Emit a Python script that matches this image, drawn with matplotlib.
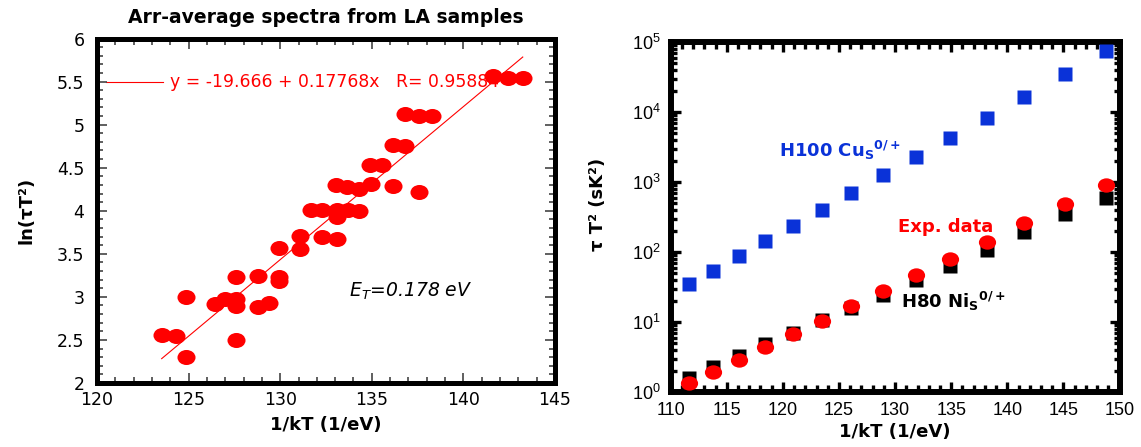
import numpy as np
import matplotlib
matplotlib.use('Agg')
import matplotlib.pyplot as plt
from matplotlib.path import Path
from matplotlib.transforms import Affine2D
from matplotlib.ticker import MultipleLocator, StrMethodFormatter, LogLocator, NullFormatter

plt.rcParams['font.family'] = ['DejaVu Sans']
plt.rcParams['mathtext.fontset'] = 'custom'
plt.rcParams['mathtext.rm'] = 'DejaVu Sans'
plt.rcParams['mathtext.it'] = 'DejaVu Sans:italic'
plt.rcParams['mathtext.bf'] = 'DejaVu Sans:bold'
plt.rcParams['mathtext.default'] = 'regular'

# ---- left panel: Arrhenius points from LA samples ----
la_x = [123.53, 124.31, 124.84, 124.84, 126.44, 126.99, 127.57, 127.57, 127.57, 127.57,
        128.81, 128.77, 129.39, 129.93, 129.93, 129.93, 131.08, 131.08, 131.68, 132.30,
        132.30, 133.08, 133.08, 133.08, 133.05, 133.72, 133.66, 134.32, 134.32, 134.96,
        134.90, 135.54, 136.17, 136.17, 136.81, 136.81, 137.59, 138.27, 137.59, 141.63,
        142.45, 143.24]
la_y = [2.556, 2.545, 2.297, 3.000, 2.916, 2.974, 2.974, 2.893, 3.226, 2.498,
        3.242, 2.878, 2.925, 3.570, 3.226, 3.187, 3.710, 3.552, 4.008, 4.008,
        3.698, 4.008, 3.923, 3.668, 4.299, 4.008, 4.272, 4.248, 4.000, 4.306,
        4.531, 4.531, 4.287, 4.763, 4.751, 5.120, 5.104, 5.100, 4.221, 5.564,
        5.545, 5.538]
fit_b0 = -19.666
fit_b1 = 0.17768
fit_r = 0.95884

# ---- right panel: simulated curves vs experiment ----
inv_kt = [111.6, 113.8, 116.1, 118.4, 120.9, 123.5, 126.1, 128.9, 131.9, 134.9,
          138.2, 141.5, 145.1, 148.8]
cu_h100 = [34.4, 53.7, 87.5, 143, 233, 397, 686, 1245, 2244, 4266,
           8185, 16250, 34400, 73800]
ni_h80 = [1.6, 2.3, 3.3, 4.9, 7.0, 10.6, 16.0, 24.5, 39.5, 64,
          108, 194, 345, 600]
exp_data = [1.33, 1.94, 2.9, 4.4, 6.8, 10.5, 17.1, 27.9, 46.6, 80,
            141, 260, 478, 908]

RED = '#ff0000'
BLUE = '#0a32d8'

ellipse = Path.unit_circle().transformed(Affine2D().scale(1.2, 1.0))

W, H = 1141, 447
fig = plt.figure(figsize=(W / 100, H / 100), dpi=100)

# ================= left =================
ax1 = fig.add_axes([97 / W, (H - 383) / H, 458 / W, 344.5 / H])
ax1.plot(la_x, la_y, ls='none', marker=ellipse, ms=13, color=RED, mec='none', zorder=3)
xf = np.array([min(la_x), max(la_x)])
ax1.plot(xf, fit_b0 + fit_b1 * xf, color=RED, lw=0.8, zorder=2)

# fit legend
ax1.plot([120.5, 123.6], [5.5, 5.5], color=RED, lw=0.8, zorder=1)
ax1.text(124.0, 5.5, f'y = {fit_b0} + {fit_b1}x   R= {fit_r}', color=RED,
         fontsize=12.4, va='center', ha='left', zorder=1)
ax1.text(133.75, 3.06, r'$E_T$=0.178 eV', fontsize=13.5, style='italic',
         va='center', ha='left')

ax1.set_xlim(120, 145)
ax1.set_ylim(2, 6)
ax1.xaxis.set_major_locator(MultipleLocator(5))
ax1.xaxis.set_minor_locator(MultipleLocator(1))
ax1.yaxis.set_major_locator(MultipleLocator(0.5))
ax1.yaxis.set_minor_locator(MultipleLocator(0.1))
ax1.yaxis.set_major_formatter(StrMethodFormatter('{x:g}'))
ax1.tick_params(which='both', direction='in', top=True, right=True,
                color='#444444', width=1.2, labelsize=12.5)
ax1.tick_params(axis='x', pad=6)
ax1.tick_params(axis='y', pad=9)
ax1.tick_params(which='major', length=7)
ax1.tick_params(which='minor', length=4)
for s in ax1.spines.values():
    s.set_linewidth(3.6)
ax1.set_xlabel('1/kT (1/eV)', fontsize=13, fontweight='bold', labelpad=5)
ax1.set_ylabel('ln(τT²)', fontsize=13, fontweight='bold')
ax1.yaxis.set_label_coords(-0.135, 0.5)
ax1.set_title('Arr-average spectra from LA samples', fontsize=13.5,
              fontweight='bold', pad=11)

# ================= right =================
ax2 = fig.add_axes([670.6 / W, (H - 392) / H, 449 / W, 350 / H])
ax2.set_yscale('log')
ax2.plot(inv_kt, cu_h100, ls='none', marker='s', ms=10, color=BLUE, mec='none', zorder=3)
ax2.plot(inv_kt, ni_h80, ls='none', marker='s', ms=10, color='black', mec='none', zorder=3)
ax2.plot(inv_kt, exp_data, ls='none', marker=ellipse, ms=12.4, color=RED, mec='none', zorder=4)

ax2.text(119.7, 2850, r'H100 Cu$_S{}^{0/+}$', color=BLUE, fontsize=13,
         fontweight='bold', va='center', ha='left')
ax2.text(130.25, 226, 'Exp. data', color=RED, fontsize=13,
         fontweight='bold', va='center', ha='left')
ax2.text(130.55, 19.9, r'H80 Ni$_S{}^{0/+}$', color='black', fontsize=13,
         fontweight='bold', va='center', ha='left')

ax2.set_xlim(110, 150)
ax2.set_ylim(1, 1e5)
ax2.xaxis.set_major_locator(MultipleLocator(5))
ax2.xaxis.set_minor_locator(MultipleLocator(1))
ax2.yaxis.set_major_locator(LogLocator(base=10, numticks=10))
ax2.yaxis.set_minor_locator(LogLocator(base=10, subs=np.arange(2, 10), numticks=50))
ax2.yaxis.set_minor_formatter(NullFormatter())
ax2.tick_params(which='both', direction='in', top=True, right=True,
                color='black', width=2.4, labelsize=13, pad=7)
ax2.tick_params(axis='x', which='major', length=7.5)
ax2.tick_params(axis='x', which='minor', length=5)
ax2.tick_params(axis='y', which='major', length=7)
ax2.tick_params(axis='y', which='minor', length=4)
for lab in ax2.get_xticklabels() + ax2.get_yticklabels():
    lab.set_fontfamily('Liberation Sans')
for s in ax2.spines.values():
    s.set_linewidth(4.3)
ax2.set_xlabel('1/kT (1/eV)', fontsize=13, fontweight='bold', labelpad=3)
ax2.set_ylabel('τ T² (sK²)', fontsize=13, fontweight='bold')
ax2.yaxis.set_label_coords(-0.142, 0.537)

fig.savefig('out.png', dpi=100)
